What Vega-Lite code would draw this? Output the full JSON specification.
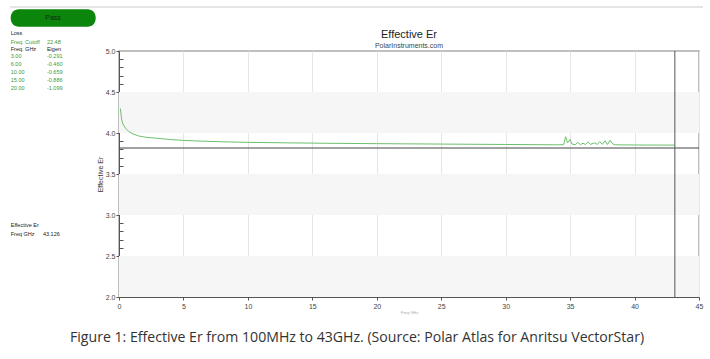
{
  "$schema": "https://vega.github.io/schema/vega-lite/v6.json",
  "width": 580,
  "height": 246,
  "autosize": {"type": "none"},
  "padding": {"left": 119, "top": 51, "right": 11, "bottom": 62},
  "background": "white",
  "config": {
    "view": {"stroke": "#aaaaaa", "strokeWidth": 1.5},
    "font": "Liberation Sans"
  },
  "data": {"values": [{}]},
  "datasets": {
    "curve": [
      {"f": 0.1, "er": 4.30}, {"f": 0.15, "er": 4.24}, {"f": 0.2, "er": 4.17}, {"f": 0.3, "er": 4.11},
      {"f": 0.5, "er": 4.06}, {"f": 0.75, "er": 4.02}, {"f": 1, "er": 3.995}, {"f": 1.5, "er": 3.965},
      {"f": 2, "er": 3.95}, {"f": 3, "er": 3.935}, {"f": 4, "er": 3.92}, {"f": 5, "er": 3.91},
      {"f": 6, "er": 3.903}, {"f": 8, "er": 3.893}, {"f": 10, "er": 3.886}, {"f": 13, "er": 3.88},
      {"f": 16, "er": 3.875}, {"f": 20, "er": 3.87}, {"f": 25, "er": 3.865}, {"f": 30, "er": 3.86},
      {"f": 34, "er": 3.856}, {"f": 34.5, "er": 3.858}, {"f": 34.65, "er": 3.955}, {"f": 34.8, "er": 3.88},
      {"f": 35.0, "er": 3.92}, {"f": 35.15, "er": 3.865}, {"f": 35.4, "er": 3.858}, {"f": 35.6, "er": 3.885},
      {"f": 35.8, "er": 3.858}, {"f": 36.0, "er": 3.875}, {"f": 36.2, "er": 3.86}, {"f": 36.4, "er": 3.89},
      {"f": 36.6, "er": 3.862}, {"f": 36.9, "er": 3.88}, {"f": 37.1, "er": 3.86}, {"f": 37.3, "er": 3.895},
      {"f": 37.5, "er": 3.862}, {"f": 37.7, "er": 3.905}, {"f": 37.9, "er": 3.86}, {"f": 38.1, "er": 3.91},
      {"f": 38.3, "er": 3.868}, {"f": 38.5, "er": 3.856}, {"f": 39, "er": 3.855}, {"f": 40, "er": 3.854},
      {"f": 41, "er": 3.853}, {"f": 42, "er": 3.853}, {"f": 43.1, "er": 3.852}
    ],
    "bands": [
      {"lo": 4.0, "hi": 4.5}, {"lo": 3.0, "hi": 3.5}, {"lo": 2.0, "hi": 2.5}
    ]
  },
  "layer": [
    {
      "data": {"name": "bands"},
      "mark": {"type": "rect", "color": "#f6f6f6"},
      "encoding": {
        "x": {"datum": 0, "type": "quantitative", "scale": {"domain": [0, 45], "nice": false, "zero": false}},
        "x2": {"datum": 45},
        "y": {"field": "lo", "type": "quantitative", "scale": {"domain": [2, 5], "nice": false, "zero": false}},
        "y2": {"field": "hi"}
      }
    },
    {
      "data": {"name": "curve"},
      "mark": {"type": "line", "color": "#6cbf6c", "strokeWidth": 1},
      "encoding": {
        "x": {"field": "f", "type": "quantitative",
          "axis": {
            "values": [0,1,2,3,4,5,6,7,8,9,10,11,12,13,14,15,16,17,18,19,20,21,22,23,24,25,26,27,28,29,30,31,32,33,34,35,36,37,38,39,40,41,42,43,44,45],
            "tickCount": 100,
            "labelExpr": "datum.value % 5 === 0 ? format(datum.value, 'd') : ''",
            "labelOverlap": false,
            "labelBound": false,
            "labelFlush": false,
            "tickSize": {"condition": {"test": "datum.value % 5 === 0", "value": 3}, "value": -4},
            "grid": true,
            "gridColor": "#e6e6e6",
            "gridOpacity": {"condition": {"test": "datum.value % 5 === 0", "value": 1}, "value": 0},
            "domainColor": "#555555",
            "tickColor": "#555555",
            "labelColor": "#444444",
            "labelFontSize": 7,
            "labelPadding": 2,
            "title": "Freq GHz",
            "titleFontSize": 4,
            "titleColor": "#aaaaaa",
            "titleFontWeight": "normal",
            "titlePadding": 1
          }},
        "y": {"field": "er", "type": "quantitative",
          "axis": {
            "values": [2.0,2.1,2.2,2.3,2.4,2.5,2.6,2.7,2.8,2.9,3.0,3.1,3.2,3.3,3.4,3.5,3.6,3.7,3.8,3.9,4.0,4.1,4.2,4.3,4.4,4.5,4.6,4.7,4.8,4.9,5.0],
            "tickCount": 100,
            "labelExpr": "round(datum.value * 10) % 5 === 0 ? format(datum.value, '.1f') : ''",
            "labelOverlap": false,
            "labelBound": false,
            "labelFlush": false,
            "tickSize": {"condition": {"test": "round(datum.value * 10) % 5 === 0", "value": 3}, "value": -4},
            "grid": false,
            "domainColor": "#555555",
            "tickColor": "#555555",
            "labelColor": "#444444",
            "labelFontSize": 7,
            "labelPadding": 1,
            "title": "Effective Er",
            "titleFontSize": 7,
            "titleColor": "#333333",
            "titleFontWeight": "normal",
            "titlePadding": 2
          }}
      }
    },
    {
      "mark": {"type": "rule", "color": "#444444", "strokeWidth": 1},
      "encoding": {"y": {"datum": 3.817}, "x": {"datum": 0}, "x2": {"datum": 45}}
    },
    {
      "mark": {"type": "rule", "color": "#555555", "strokeWidth": 1},
      "encoding": {"x": {"datum": 43.126}, "y": {"datum": 2}, "y2": {"datum": 5}}
    },
    {
      "mark": {"type": "rule", "color": "#dddddd", "strokeWidth": 1.5},
      "encoding": {"y": {"datum": 5.537}, "x": {"datum": -8.46}, "x2": {"datum": 45.31}}
    },
    {
      "mark": {"type": "rect", "color": "#0b850b", "cornerRadius": 8},
      "encoding": {"x": {"datum": -8.40}, "x2": {"datum": -1.81}, "y": {"datum": 5.509}, "y2": {"datum": 5.296}}
    },
    {
      "mark": {"type": "text", "text": "Pass", "fontSize": 7, "color": "#0a2f0a", "align": "center", "baseline": "middle"},
      "encoding": {"x": {"datum": -5.12}, "y": {"datum": 5.402}}
    },
    {
      "mark": {"type": "text", "text": "Effective Er", "fontSize": 11, "color": "#222222", "align": "center", "baseline": "middle"},
      "encoding": {"x": {"datum": 22.5}, "y": {"datum": 5.195}}
    },
    {
      "mark": {"type": "text", "text": "PolarInstruments.com", "fontSize": 7, "color": "#444444", "align": "center", "baseline": "middle"},
      "encoding": {"x": {"datum": 22.5}, "y": {"datum": 5.067}}
    },
    {
      "mark": {"type": "text", "text": "Loss", "fontSize": 5.5, "color": "#222222", "align": "left", "baseline": "middle"},
      "encoding": {"x": {"datum": -8.40}, "y": {"datum": 5.2195}}
    },
    {
      "mark": {"type": "text", "text": "Freq. Cutoff", "fontSize": 5.5, "color": "#3a9a3a", "align": "left", "baseline": "middle"},
      "encoding": {"x": {"datum": -8.40}, "y": {"datum": 5.1134}}
    },
    {
      "mark": {"type": "text", "text": "22.48", "fontSize": 5.5, "color": "#3a9a3a", "align": "left", "baseline": "middle"},
      "encoding": {"x": {"datum": -5.59}, "y": {"datum": 5.1134}}
    },
    {
      "mark": {"type": "text", "text": "Freq. GHz", "fontSize": 5.5, "color": "#222222", "align": "left", "baseline": "middle"},
      "encoding": {"x": {"datum": -8.40}, "y": {"datum": 5.0207}}
    },
    {
      "mark": {"type": "text", "text": "Eigen", "fontSize": 5.5, "color": "#222222", "align": "left", "baseline": "middle"},
      "encoding": {"x": {"datum": -5.59}, "y": {"datum": 5.0207}}
    },
    {
      "mark": {"type": "text", "text": ["3.00", "6.00", "10.00", "15.00", "20.00"], "fontSize": 5.5, "lineHeight": 8, "color": "#3a9a3a", "align": "left", "baseline": "top"},
      "encoding": {"x": {"datum": -8.40}, "y": {"datum": 4.963}}
    },
    {
      "mark": {"type": "text", "text": ["-0.291", "-0.460", "-0.659", "-0.886", "-1.099"], "fontSize": 5.5, "lineHeight": 8, "color": "#3a9a3a", "align": "left", "baseline": "top"},
      "encoding": {"x": {"datum": -5.59}, "y": {"datum": 4.963}}
    },
    {
      "mark": {"type": "text", "text": "Effective Er", "fontSize": 5.5, "color": "#222222", "align": "left", "baseline": "middle"},
      "encoding": {"x": {"datum": -8.40}, "y": {"datum": 2.878}}
    },
    {
      "mark": {"type": "text", "text": "Freq GHz", "fontSize": 5.5, "color": "#222222", "align": "left", "baseline": "middle"},
      "encoding": {"x": {"datum": -8.40}, "y": {"datum": 2.768}}
    },
    {
      "mark": {"type": "text", "text": "43.126", "fontSize": 5.5, "color": "#222222", "align": "left", "baseline": "middle"},
      "encoding": {"x": {"datum": -5.90}, "y": {"datum": 2.768}}
    },
    {
      "mark": {"type": "text", "text": "Figure 1: Effective Er from 100MHz to 43GHz. (Source: Polar Atlas for Anritsu VectorStar)", "font": "Open Sans", "fontSize": 14.1, "color": "#333333", "align": "center", "baseline": "middle"},
      "encoding": {"x": {"datum": 18.47}, "y": {"datum": 1.5}}
    }
  ]
}
